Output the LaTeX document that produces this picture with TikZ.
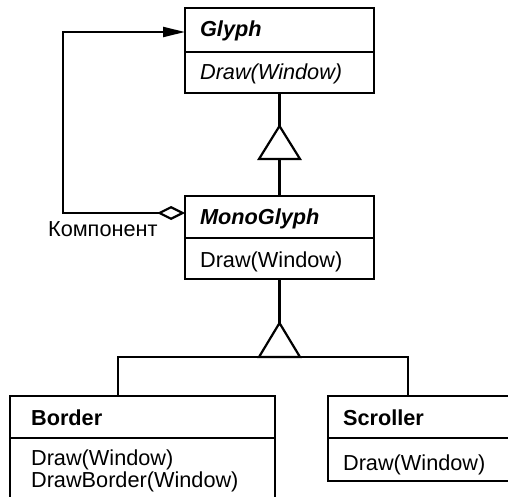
\documentclass[tikz,border=0pt]{standalone}
\usepackage{fontspec}
\setmainfont{Liberation Sans}
\usetikzlibrary{arrows.meta}
\begin{document}
\begin{tikzpicture}[x=1pt,y=-1pt,
  line width=2.2pt,
  classbox/.style={draw, rectangle, inner sep=0pt, outer sep=0pt, anchor=north west},
  txt/.style={anchor=base west, inner sep=0pt, font=\fontsize{21.7}{23}\selectfont},
  gentri/.style={draw, fill=white, line join=miter},
  lj/.style={line join=miter}
]
\useasboundingbox (0,0) rectangle (508,497);
\clip (0,0) rectangle (508,497);

% Glyph
\node[classbox, minimum width=189pt, minimum height=85pt] (glyph) at (185,8) {};
\draw (glyph.west |- 0,52) -- (glyph.east |- 0,52);
\node[txt] (glyphName) at (199,37) {\bfseries\itshape Glyph};
\node[txt] (glyphOp) at (199,80) {\itshape Draw(Window)};

% MonoGlyph
\node[classbox, minimum width=189pt, minimum height=83pt] (mono) at (185,196) {};
\draw (mono.west |- 0,238) -- (mono.east |- 0,238);
\node[txt] (monoName) at (199,224) {\bfseries\itshape MonoGlyph};
\node[txt] (monoOp) at (199,267) {Draw(Window)};

% Border
\node[classbox, minimum width=265pt, minimum height=160pt] (border) at (10,396) {};
\draw (border.west |- 0,438) -- (border.east |- 0,438);
\node[txt] (borderName) at (30,425) {\bfseries Border};
\node[txt] (borderOp1) at (30,465) {Draw(Window)};
\node[txt] (borderOp2) at (30,487) {DrawBorder(Window)};

% Scroller
\node[classbox, minimum width=200pt, minimum height=85pt] (scroller) at (328,396) {};
\draw (scroller.west |- 0,438) -- (scroller.east |- 0,438);
\node[txt] (scrollerName) at (342,425) {\bfseries Scroller};
\node[txt] (scrollerOp) at (342,470) {Draw(Window)};

% Generalization Glyph <- MonoGlyph
\coordinate (tri1) at (279.5,126);
\draw (glyph.south) -- (tri1);
\draw[gentri] (tri1) -- ++(-20.5,33) -- ++(41,0) -- cycle;
\draw (tri1 |- 0,159) -- (mono.north);

% Generalization MonoGlyph <- Border, Scroller
\coordinate (tri2) at (279.5,323);
\draw (mono.south) -- (tri2);
\draw[gentri] (tri2) -- ++(-20.5,34) -- ++(41,0) -- cycle;
\coordinate (barW) at (118,357);
\coordinate (barE) at (408,357);
\draw[lj] (barW |- border.north) -- (barW) -- (barE) -- (barE |- scroller.north);

% Aggregation MonoGlyph -> Glyph (component)
\coordinate (monoAgg) at (185,213);
\coordinate (loopCorner) at (63,32);
\draw[lj, {Diamond[open, length=28pt, width=14pt]}-{Triangle[length=22pt, width=10pt]}]
  (monoAgg) -- (loopCorner |- monoAgg) -- (loopCorner) -- (glyph.west |- loopCorner);
\node[txt] (compLabel) at (47,236) {Компонент};
\end{tikzpicture}
\end{document}
